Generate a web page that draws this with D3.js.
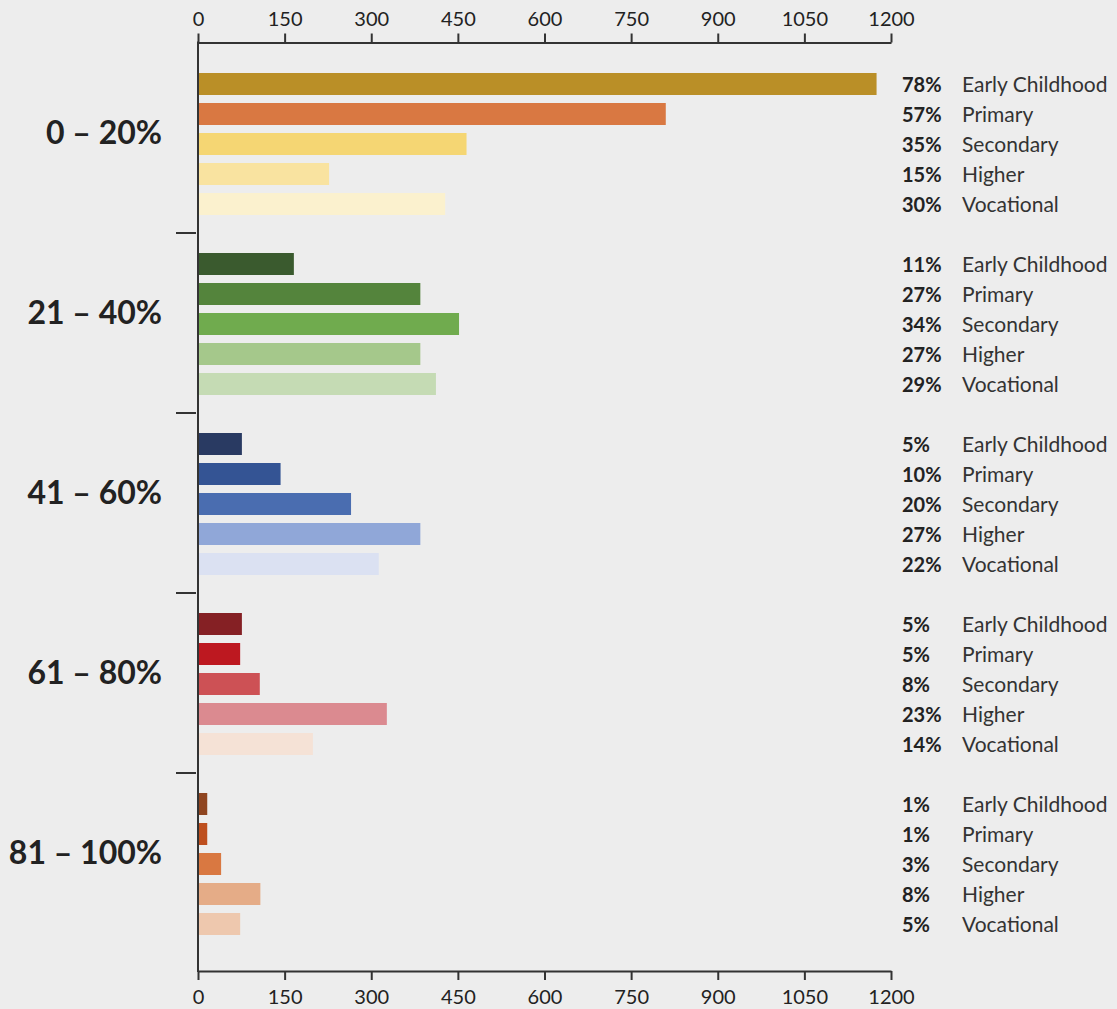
<!DOCTYPE html>
<html>
<head>
<meta charset="utf-8">
<script src="https://cdn.jsdelivr.net/npm/d3@7"></script>
<style>
  html, body { margin: 0; padding: 0; background: #ededed; }
  svg { display: block; }
  text { font-family: Lato, "Open Sans", sans-serif; fill: #222; }
</style>
</head>
<body>
<svg id="chart"></svg>
<script>
  var width = 1117,
      height = 1009;

  // data
  var groups = ['0 – 20%', '21 – 40%', '41 – 60%', '61 – 80%', '81 – 100%'];
  var levels = ['Early Childhood', 'Primary', 'Secondary', 'Higher', 'Vocational'];
  var xTicks = [0, 150, 300, 450, 600, 750, 900, 1050, 1200];

  var values = [
    [1175, 810, 465, 227, 428],
    [166, 385, 452, 385, 412],
    [76, 143, 265, 385, 313],
    [76, 73, 107, 327, 199],
    [16, 16, 40, 108, 73]
  ];

  var shares = [
    ['78%', '57%', '35%', '15%', '30%'],
    ['11%', '27%', '34%', '27%', '29%'],
    ['5%', '10%', '20%', '27%', '22%'],
    ['5%', '5%', '8%', '23%', '14%'],
    ['1%', '1%', '3%', '8%', '5%']
  ];

  var palettes = [
    ['#ba8f27', '#d97842', '#f5d673', '#f9e3a0', '#fbf1ce'],
    ['#3a5a2e', '#54843c', '#70ab4e', '#a5c88b', '#c5dbb4'],
    ['#293a62', '#345494', '#4a6db0', '#90a7d8', '#dbe1f2'],
    ['#852024', '#bd1820', '#cd5155', '#db8a90', '#f5e2d6'],
    ['#8f4520', '#be4f1e', '#d97841', '#e5ac87', '#eec8ae']
  ];

  var axisTopY = 42.5,
      axisBottomY = 971;

  var svg = d3.select("#chart")
      .attr("width", width)
      .attr("height", height);

  var x = d3.scaleLinear()
      .domain([0, 1200])
      .range([198, 891]);

  var y = d3.scaleBand()
      .domain(groups)
      .range([53, 953]);

  var inner = d3.scaleBand()
      .domain(levels)
      .range([20, 162])
      .paddingInner(8 / 30);

  // axes
  var fmt = d3.format("d");

  var topAxis = svg.append("g")
      .attr("transform", "translate(0," + axisTopY + ")")
      .call(d3.axisTop(x).tickValues(xTicks).tickFormat(fmt).tickSize(9).tickPadding(8).tickSizeOuter(0));

  var bottomAxis = svg.append("g")
      .attr("transform", "translate(0," + axisBottomY + ")")
      .call(d3.axisBottom(x).tickValues(xTicks).tickFormat(fmt).tickSize(9).tickPadding(10).tickSizeOuter(0));

  [topAxis, bottomAxis].forEach(function(g) {
    g.select(".domain").attr("stroke", "#333").attr("stroke-width", 2);
    g.selectAll(".tick line").attr("stroke", "#333").attr("stroke-width", 2);
    g.selectAll(".tick text")
      .attr("fill", "#333")
      .style("font-size", "20px")
      .style("font-family", "Lato, sans-serif");
  });

  svg.append("line")
      .attr("x1", x(0)).attr("x2", x(0))
      .attr("y1", axisTopY - 1).attr("y2", axisBottomY + 1)
      .attr("stroke", "#333")
      .attr("stroke-width", 2);

  // separators between groups
  svg.append("g")
    .selectAll("line")
    .data(groups.slice(1))
    .enter().append("line")
      .attr("x1", 176)
      .attr("x2", x(0) - 2)
      .attr("y1", function(d) { return y(d); })
      .attr("y2", function(d) { return y(d); })
      .attr("stroke", "#333")
      .attr("stroke-width", 2);

  // group labels
  svg.append("g")
    .selectAll("text")
    .data(groups)
    .enter().append("text")
      .attr("x", 162)
      .attr("y", function(d) { return y(d) + y.bandwidth() / 2 + 1; })
      .attr("text-anchor", "end")
      .style("font-size", "32px")
      .style("font-weight", "700")
      .text(function(d) { return d; });

  // bars and labels
  var rows = [];
  groups.forEach(function(g, gi) {
    levels.forEach(function(l, li) {
      rows.push({ group: g, level: l, value: values[gi][li], share: shares[gi][li], color: palettes[gi][li] });
    });
  });

  var row = svg.append("g")
    .selectAll("g")
    .data(rows)
    .enter().append("g")
      .attr("transform", function(d) { return "translate(0," + (y(d.group) + inner(d.level)) + ")"; });

  row.append("rect")
      .attr("x", x(0) + 1)
      .attr("y", 0)
      .attr("width", function(d) { return x(d.value) - x(0) - 1; })
      .attr("height", inner.bandwidth())
      .attr("fill", function(d) { return d.color; });

  row.append("text")
      .attr("x", 902)
      .attr("y", inner.bandwidth() / 2 + 8)
      .style("font-size", "20px")
      .style("font-weight", "700")
      .text(function(d) { return d.share; });

  row.append("text")
      .attr("x", 962)
      .attr("y", inner.bandwidth() / 2 + 8)
      .style("font-size", "21px")
      .style("fill", "#333")
      .text(function(d) { return d.level; });
</script>
</body>
</html>
